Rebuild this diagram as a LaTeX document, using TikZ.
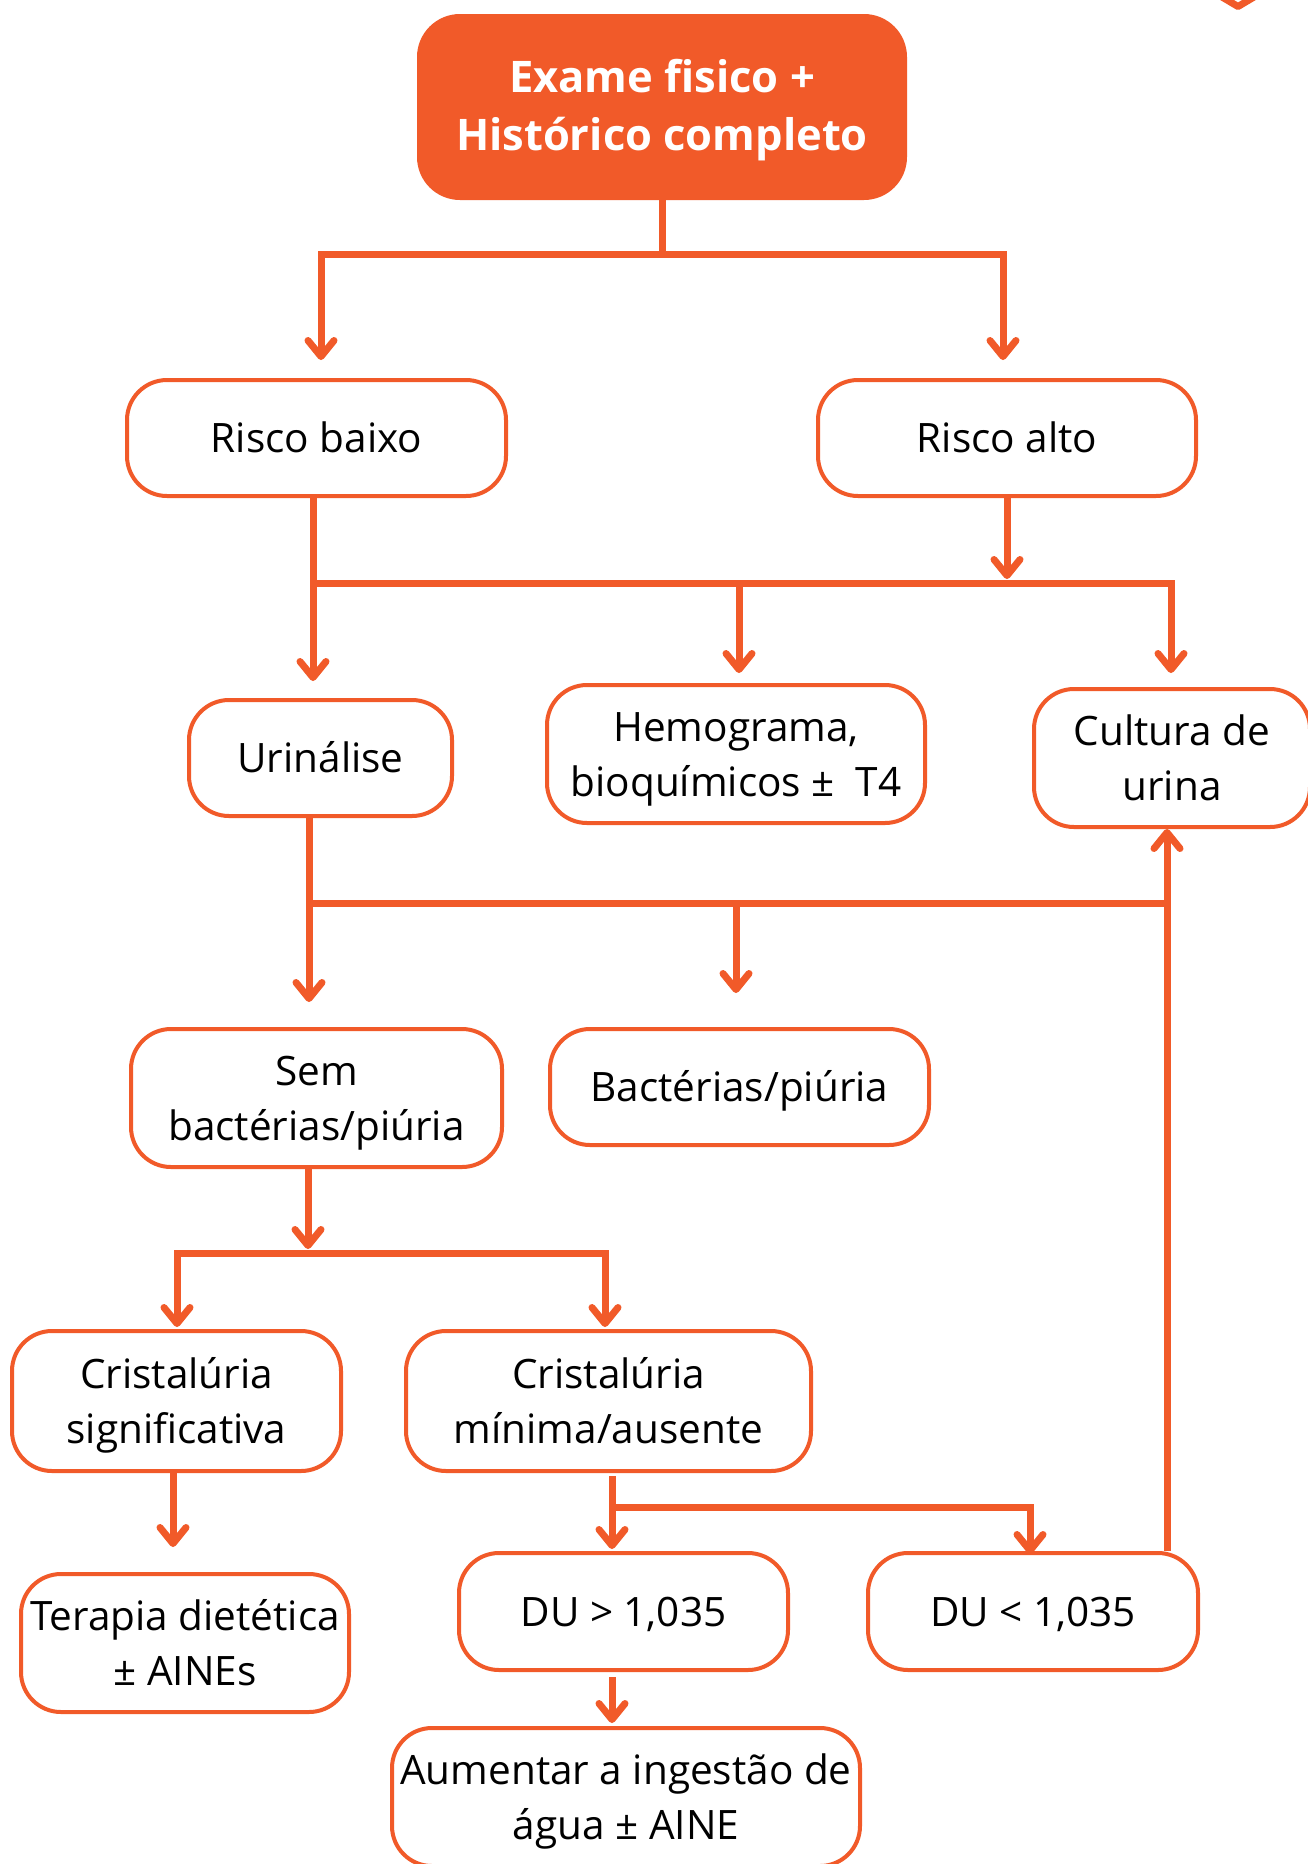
\documentclass[tikz,border=0pt]{standalone}
\usepackage{fontspec}
\setmainfont{Open Sans}
\usetikzlibrary{arrows.meta,calc}
\definecolor{brand}{RGB}{241,90,41}
% fixed line height so every label sits at the same place in its box
\newcommand{\bs}{\rule[-12pt]{0pt}{53pt}}
\newcommand{\hs}{\rule[-14pt]{0pt}{56pt}}
\begin{document}
\begin{tikzpicture}[x=1pt,y=-1pt,
  box/.style={draw=brand, line width=4pt, fill=white, rounded corners=40pt,
    align=center, inner sep=0pt, text=black,
    font=\fontsize{40.5}{55}\selectfont},
  headbox/.style={fill=brand, rounded corners=43pt, text=white, align=center,
    inner sep=0pt, font=\bfseries\fontsize{43.5}{58}\selectfont},
  conn/.style={draw=brand, line width=7pt},
  >={Straight Barb[length=16pt,width=26pt,round]}]

\useasboundingbox (0,0) rectangle (1307,1864);
\fill[white] (0,0) rectangle (1307,1864);

% ---------- boxes ----------
\node[headbox, minimum width=490pt, minimum height=186pt] (top) at (662,107)
  {\hs Exame fisico +\\Histórico completo\hs};

\node[box, minimum width=379pt, minimum height=116pt] (rb) at (316.5,438) {\bs Risco baixo};
\node[box, minimum width=378pt, minimum height=116pt] (ra) at (1007,438) {\bs Risco alto};

\node[box, minimum width=263pt, minimum height=116pt] (u) at (320.5,758) {\bs Urinálise};
\node[box, minimum width=378pt, minimum height=138pt] (h) at (736,754)
  {\bs Hemograma,\\bioquímicos ±\ \ T4\bs};
\node[box, minimum width=276pt, minimum height=138pt] (c) at (1172,758)
  {\bs Cultura de\\urina\bs};

\node[box, minimum width=371pt, minimum height=138pt] (s) at (316.5,1098)
  {\bs Sem\\bactérias/piúria\bs};
\node[box, minimum width=379pt, minimum height=116pt] (bp) at (739.5,1087)
  {\bs Bactérias/piúria};

\node[box, minimum width=329pt, minimum height=140pt] (cs) at (176.5,1401)
  {\bs Cristalúria\\significativa\bs};
\node[box, minimum width=405pt, minimum height=140pt] (cm) at (608.5,1401)
  {\bs Cristalúria\\mínima/ausente\bs};

\node[box, minimum width=328pt, minimum height=138pt] (te) at (185,1643)
  {\bs Terapia dietética\\± AINEs\bs};
\node[box, minimum width=329pt, minimum height=117pt] (d1) at (623.5,1611.5)
  {\bs DU > 1,035};
\node[box, minimum width=330pt, minimum height=117pt] (d2) at (1033,1611.5)
  {\bs DU < 1,035};

\node[box, minimum width=468pt, minimum height=138pt] (ag) at (626,1797)
  {\bs Aumentar a ingestão de\\água ± AINE\bs};

% ---------- junction points ----------
\coordinate (b1L) at (321,254);  \coordinate (b1R) at (1003,254);
\coordinate (b2L) at (313,583);  \coordinate (b2M) at (739,583);
\coordinate (b2R) at (1171,583);
\coordinate (b3L) at (309,903);  \coordinate (b3M) at (736,903);
\coordinate (b3R) at (1167,903);
\coordinate (b4L) at (177,1253); \coordinate (b4M) at (308,1253);
\coordinate (b4R) at (605,1253);
\coordinate (k5)  at (173,1500);
\coordinate (b5L) at (612,1507); \coordinate (b5R) at (1030,1507);

% ---------- connectors ----------
% exam -> risk levels
\draw[conn] (top.south) -- (top.south |- b1L);
\draw[conn,<->] ($(b1L |- rb.north)+(0,-18)$) -- (b1L) -- (b1R)
  -- ($(b1R |- ra.north)+(0,-18)$);

% risk levels -> tests
\draw[conn,->] (rb.south -| b2L) -- ($(b2L |- u.north)+(0,-17)$);
\draw[conn,->] (ra.south) -- ($(ra.south |- b2L)+(0,-4)$);
\draw[conn,->] (b2L) -- (b2R) -- ($(b2R |- c.north)+(0,-14)$);
\draw[conn,->] (b2M) -- ($(b2M |- h.north)+(0,-10)$);

% urinalysis -> findings
\draw[conn,->] (u.south -| b3L) -- ($(b3L |- s.north)+(0,-25)$);
\draw[conn] (b3L) -- (b3R);
\draw[conn,->] (b3M) -- ($(b3M |- bp.north)+(0,-34)$);
\draw[conn,->] (d2.north -| b3R) -- (c.south -| b3R);

% no bacteria -> crystalluria
\draw[conn,->] (s.south -| b4M) -- ($(b4M)+(0,-4)$);
\draw[conn,<->] ($(b4L |- cs.north)+(0,-2)$) -- (b4L) -- (b4R)
  -- ($(b4R |- cm.north)+(0,-2)$);

% significant crystalluria -> diet
\draw[conn,->] (cs.south -| k5) -- ($(k5 |- te.north)+(0,-25)$);

% minimal crystalluria -> urine density
\draw[conn,->] ($(cm.south -| b5L)+(0,3)$) -- ($(b5L |- d1.north)+(0,-2)$);
\draw[conn,->] (b5L) -- (b5R) -- ($(b5R |- d2.north)+(0,3)$);

% high density -> water intake
\draw[conn,->] ($(d1.south -| b5L)+(0,5)$) -- ($(b5L |- ag.north)+(0,-3)$);

% arrow tip peeking in at the top edge
\draw[conn, line cap=round, line join=round]
  (1222,-3) -- (1238,6.5) -- (1254,-3);
\end{tikzpicture}
\end{document}
